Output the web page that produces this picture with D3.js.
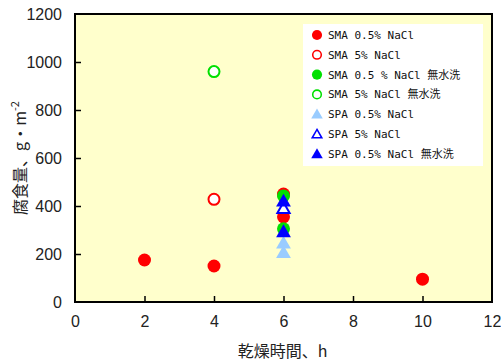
<!DOCTYPE html>
<html>
<head>
<meta charset="utf-8">
<script src="https://cdnjs.cloudflare.com/ajax/libs/d3/7.8.5/d3.min.js"></script>
<style>
  body { margin: 0; background: #fff; }
  svg { display: block; }
  .tick-label { font-family: "Liberation Sans", Arial, sans-serif; font-size: 16px; fill: #222; }
  .axis-title { font-family: "Noto Sans CJK JP", "Liberation Sans", sans-serif; font-size: 16px; fill: #222; }
  .legend-text { font-family: "DejaVu Sans Mono", "Noto Sans CJK JP", monospace; font-size: 11px; fill: #111; }
</style>
</head>
<body>
<div id="chart"></div>
<script>
// --- data ---
const xTicks = [0, 2, 4, 6, 8, 10, 12];
const yTicks = [0, 200, 400, 600, 800, 1000, 1200];

const smaLowX  = [2, 4, 6, 6, 10];
const smaLowY  = [175, 150, 450, 355, 95];
const smaHighX = [4];
const smaHighY = [428];
const smaLowNwX = [6, 6];
const smaLowNwY = [442, 305];
const smaHighNwX = [4];
const smaHighNwY = [960];
const spaLowX  = [6, 6];
const spaLowY  = [245, 205];
const spaHighX = [6];
const spaHighY = [390];
const spaLowNwX = [6, 6];
const spaLowNwY = [420, 292];

const seriesNames = [
  "SMA 0.5% NaCl",
  "SMA 5% NaCl",
  "SMA 0.5 % NaCl 無水洗",
  "SMA 5% NaCl 無水洗",
  "SPA 0.5% NaCl",
  "SPA 5% NaCl",
  "SPA 0.5% NaCl 無水洗"
];

const series = [
  { name: seriesNames[0], xs: smaLowX, ys: smaLowY, shape: "circle", color: "#ff0000", filled: true },
  { name: seriesNames[1], xs: smaHighX, ys: smaHighY, shape: "circle", color: "#ff0000", filled: false },
  { name: seriesNames[2], xs: smaLowNwX, ys: smaLowNwY, shape: "circle", color: "#00e000", filled: true },
  { name: seriesNames[3], xs: smaHighNwX, ys: smaHighNwY, shape: "circle", color: "#00e000", filled: false },
  { name: seriesNames[4], xs: spaLowX, ys: spaLowY, shape: "triangle", color: "#99ccff", filled: true },
  { name: seriesNames[5], xs: spaHighX, ys: spaHighY, shape: "triangle", color: "#0000ff", filled: false },
  { name: seriesNames[6], xs: spaLowNwX, ys: spaLowNwY, shape: "triangle", color: "#0000ff", filled: true }
];

// --- layout ---
const width = 501, height = 362;
const plot = { left: 75, right: 492, top: 14, bottom: 302 };

const svg = d3.select("#chart").append("svg")
  .attr("width", width)
  .attr("height", height);

const x = d3.scaleLinear().domain([0, 12]).range([plot.left, plot.right]);
const y = d3.scaleLinear().domain([0, 1200]).range([plot.bottom, plot.top]);

// plot background
svg.append("rect")
  .attr("x", plot.left).attr("y", plot.top)
  .attr("width", plot.right - plot.left)
  .attr("height", plot.bottom - plot.top)
  .attr("fill", "#ffffcc");

// axes with inward ticks
const xAxis = svg.append("g")
  .attr("transform", `translate(0,${plot.bottom})`)
  .call(d3.axisBottom(x).tickValues(xTicks).tickFormat(d3.format("d"))
    .tickSizeInner(-6).tickSizeOuter(0).tickPadding(14));
const yAxis = svg.append("g")
  .attr("transform", `translate(${plot.left},0)`)
  .call(d3.axisLeft(y).tickValues(yTicks).tickFormat(d3.format("d"))
    .tickSizeInner(-6).tickSizeOuter(0).tickPadding(13));

[xAxis, yAxis].forEach(g => {
  g.select(".domain").remove();
  g.selectAll(".tick line").attr("stroke", "#000").attr("stroke-width", 1.5);
  g.selectAll(".tick text").attr("class", "tick-label").attr("fill", "#222");
});
// hide end ticks that sit on the frame
xAxis.selectAll(".tick line").filter(d => d === 0 || d === 12).remove();
yAxis.selectAll(".tick line").filter(d => d === 0 || d === 1200).remove();

// frame
svg.append("rect")
  .attr("x", plot.left).attr("y", plot.top)
  .attr("width", plot.right - plot.left)
  .attr("height", plot.bottom - plot.top)
  .attr("fill", "none")
  .attr("stroke", "#000")
  .attr("stroke-width", 2);

// axis titles
svg.append("text")
  .attr("class", "axis-title")
  .attr("x", (plot.left + plot.right) / 2 - 1)
  .attr("y", 357)
  .attr("text-anchor", "middle")
  .text("乾燥時間、h");

const yTitle = svg.append("text")
  .attr("class", "axis-title")
  .attr("transform", `translate(26,158) rotate(-90)`)
  .attr("text-anchor", "middle");
yTitle.append("tspan").text("腐食量、g・m");
yTitle.append("tspan").attr("dy", -7).attr("font-size", 11).text("-2");

// markers
const triangle = d3.symbol().type(d3.symbolTriangle);

function drawMarker(g, s, cx, cy, scale) {
  const sw = 2 * scale;
  if (s.shape === "circle") {
    const r = s.filled ? 6.5 * scale : 5.5 * scale;
    g.append("circle")
      .attr("cx", cx).attr("cy", cy).attr("r", r)
      .attr("fill", s.filled ? s.color : "#fff")
      .attr("stroke", s.filled ? "none" : s.color)
      .attr("stroke-width", sw);
  } else {
    const size = s.filled ? 95 * scale * scale : 65 * scale * scale;
    g.append("path")
      .attr("d", triangle.size(size)())
      .attr("transform", `translate(${cx},${cy + 1})`)
      .attr("fill", s.filled ? s.color : "#fff")
      .attr("stroke", s.filled ? "none" : s.color)
      .attr("stroke-width", sw);
  }
}

const marks = svg.append("g");
series.forEach(s => {
  s.xs.forEach((xv, i) => drawMarker(marks, s, x(xv), y(s.ys[i]), 1));
});

// legend
const legend = svg.append("g");
legend.append("rect")
  .attr("x", 303).attr("y", 24)
  .attr("width", 180).attr("height", 142)
  .attr("fill", "#fff");

series.forEach((s, i) => {
  const ly = 35 + i * 19.8;
  drawMarker(legend, s, 317, ly, 0.78);
  legend.append("text")
    .attr("class", "legend-text")
    .attr("x", 328)
    .attr("y", ly + 4)
    .text(s.name);
});
</script>
</body>
</html>
